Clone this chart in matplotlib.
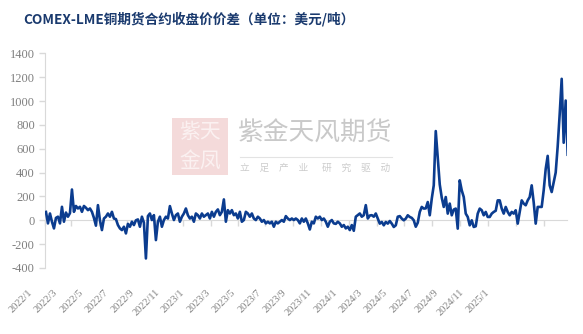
import matplotlib
matplotlib.use("Agg")
import matplotlib.pyplot as plt
from matplotlib.lines import Line2D
from matplotlib.patches import Rectangle
import pandas as pd

title = "COMEX-LME铜期货合约收盘价价差（单位：美元/吨）"
first_day = "2022-01-04"
last_day = "2025-02-23"
spread = [
    70, -26, 57, -12, -68, 20, 30, -26, 113, -12,
    65, 30, 60, 258, 71, 120, 99, 113, 71, 120,
    105, 85, 99, 71, 20, -45, 127, 0, -82, 15,
    30, 57, 30, 71, 15, 10, -40, -68, -82, -54,
    -110, -30, -54, -12, -40, 0, 7, -54, 30, -20,
    -320, 35, 57, 2, 43, -166, -12, 30, -54, 2,
    30, 15, 119, 57, 2, 43, 57, -12, 30, 57,
    99, 43, 15, 30, -12, 57, 43, 15, 57, 30,
    43, 57, 15, 71, 30, 71, 91, 43, 71, 175,
    -12, 85, 57, 85, 43, 57, 15, 71, -12, 2,
    71, 57, 30, 57, 15, 2, 30, 15, -12, 2,
    -26, -12, -26, -12, -54, -12, -26, -12, 2, -12,
    35, 15, 2, 15, 2, 15, 2, -26, 15, -12,
    15, -26, -77, -12, -26, 30, 15, 30, 2, 15,
    -12, -54, -12, 2, -26, -30, -12, -26, -54, -40,
    -68, -54, -82, -40, -88, 30, 43, 57, 30, 43,
    127, 15, 40, 43, 30, 57, 15, -28, -14, -42,
    -14, -28, -6, -28, -56, -42, 30, 35, 14, 0,
    14, 42, 28, 20, 0, -54, -20, 70, 112, 98,
    100, 153, 42, 181, 293, 748, 520, 300, 190, 112,
    195, 56, 140, 42, 90, 98, -70, 335, 251, 195,
    56, 28, -42, 0, -56, -50, 56, 98, 84, 42,
    70, 28, 28, 56, 70, 80, 167, 167, 98, 56,
    112, 70, 42, 70, 56, 84, -28, 70, 167, 140,
    126, 167, 195, 293, 150, -28, 112, 112, 112, 251,
    430, 540, 293, 237, 320, 400, 620, 890, 1186, 650,
    1004, 550,
]
month_labels = ["2022/1", "2022/3", "2022/5", "2022/7", "2022/9", "2022/11",
                "2023/1", "2023/3", "2023/5", "2023/7", "2023/9", "2023/11",
                "2024/1", "2024/3", "2024/5", "2024/7", "2024/9", "2024/11",
                "2025/1"]
y_ticks = [-400, -200, 0, 200, 400, 600, 800, 1000, 1200, 1400]

LINE = "#0b3c8f"
GRAY = "#808080"
LIGHT = "#d9d9d9"

W, H = 583, 334
dates = pd.date_range(first_day, last_day, periods=len(spread))
tick_dates = pd.to_datetime([m + "/1" for m in month_labels], format="%Y/%m/%d")

fig = plt.figure(figsize=(W / 100, H / 100), dpi=100)

# main plot area
ax = fig.add_axes([44.6 / W, 1 - 268 / H, (567 - 44.6) / W, (268 - 53.3) / H])
ax.plot(dates, spread, color=LINE, lw=1.9, zorder=3, solid_joinstyle="round")
ax.set_xlim(pd.Timestamp("2022-01-01"), pd.Timestamp("2025-02-21 12:00"))
ax.set_ylim(-400, 1400)
ax.set_yticks(y_ticks)
ax.set_yticklabels([str(v) for v in y_ticks], family="Liberation Serif", fontsize=9, color=GRAY)
ax.tick_params(axis="y", length=4, width=1, color=LIGHT, pad=3)
ax.set_xticks(tick_dates)
ax.tick_params(axis="x", length=4, width=1, color=LIGHT, labelbottom=False)
for side in ["top", "right"]:
    ax.spines[side].set_visible(False)
ax.spines["left"].set_color(LIGHT)
ax.spines["bottom"].set_color(LIGHT)
ax.spines["bottom"].set_position(("data", 0))
ax.patch.set_alpha(0)

# date labels along the bottom
lab = fig.add_axes([31 / W, 1 - 291 / H, 457 / W, 0.001])
lab.set_xlim(0, len(month_labels) - 1)
lab.set_xticks(range(len(month_labels)))
lab.set_xticklabels(month_labels, rotation=45, ha="right", va="center",
                    rotation_mode="anchor", family="Liberation Serif", fontsize=7.5, color=GRAY)
lab.tick_params(axis="x", length=0, pad=0)
lab.set_yticks([])
lab.set_frame_on(False)

# title
fig.text(23 / W, 1 - 19.5 / H, title, fontsize=9.8, fontweight="bold", color="#1a3a6e",
         family=["Liberation Sans Narrow", "Noto Sans CJK SC", "DejaVu Sans"], va="center", ha="left")

# watermark
fig.add_artist(Rectangle((172 / W, 1 - 175 / H), 56 / W, 57 / H, transform=fig.transFigure,
                         facecolor="#f4dada", edgecolor="none", zorder=0))
fig.text(200 / W, 1 - 132 / H, "紫天", fontsize=15, color="#fbf1f1", family="Noto Sans CJK SC",
         ha="center", va="center", zorder=0)
fig.text(200 / W, 1 - 161 / H, "金凤", fontsize=15, color="#fbf1f1", family="Noto Sans CJK SC",
         ha="center", va="center", zorder=0)
fig.text(238 / W, 1 - 134 / H, "紫金天风期货", fontsize=18.5, color="#c9c9c9",
         family="Noto Sans CJK SC", ha="left", va="center", zorder=0)
fig.add_artist(Line2D([240 / W, 392 / W], [1 - 157 / H, 1 - 157 / H], color="#e3e3e3", lw=0.8, zorder=0))
fig.text(240 / W, 1 - 168 / H, "立　足　产　业", fontsize=7, color="#cccccc",
         family="Noto Sans CJK SC", ha="left", va="center", zorder=0)
fig.text(322 / W, 1 - 168 / H, "研　究　驱　动", fontsize=7, color="#cccccc",
         family="Noto Sans CJK SC", ha="left", va="center", zorder=0)

fig.savefig("out.png", dpi=100)
